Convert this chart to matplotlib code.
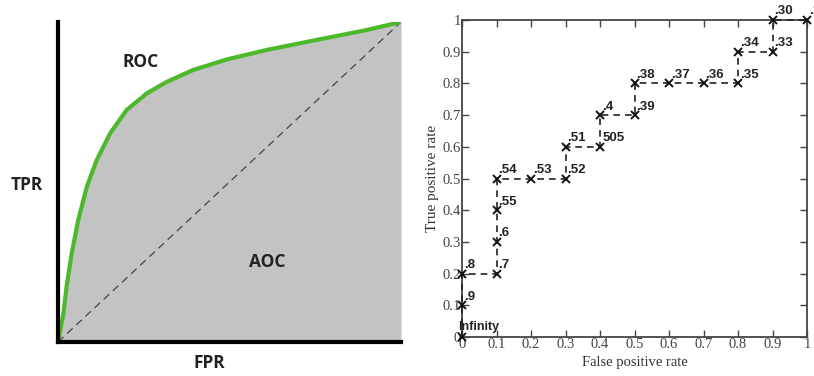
import numpy as np
import matplotlib.pyplot as plt

# left panel: schematic ROC curve
roc_fpr = [0.0, 0.016, 0.025, 0.040, 0.059, 0.084, 0.113, 0.152, 0.200,
           0.259, 0.317, 0.394, 0.492, 0.608, 0.754, 0.900, 1.0]
roc_tpr = [0.0, 0.090, 0.173, 0.277, 0.381, 0.485, 0.569, 0.652, 0.725,
           0.777, 0.813, 0.850, 0.883, 0.9125, 0.944, 0.975, 1.0]

# right panel: step ROC with thresholds
fpr = [0.0, 0.0, 0.0, 0.1, 0.1, 0.1, 0.1, 0.2, 0.3, 0.3, 0.4, 0.4, 0.5,
       0.5, 0.6, 0.7, 0.8, 0.8, 0.9, 0.9, 1.0]
tpr = [0.0, 0.1, 0.2, 0.2, 0.3, 0.4, 0.5, 0.5, 0.5, 0.6, 0.6, 0.7, 0.7,
       0.8, 0.8, 0.8, 0.8, 0.9, 0.9, 1.0, 1.0]
thresholds = ["Infinity", ".9", ".8", ".7", ".6", ".55", ".54", ".53", ".52",
              ".51", "505", ".4", ".39", ".38", ".37", ".36", ".35", ".34",
              ".33", ".30", ".1"]
ticks = [0, 0.1, 0.2, 0.3, 0.4, 0.5, 0.6, 0.7, 0.8, 0.9, 1]
tick_labels = ["0", "0.1", "0.2", "0.3", "0.4", "0.5", "0.6", "0.7", "0.8", "0.9", "1"]

fig = plt.figure(figsize=(8.14, 3.76), dpi=100)

# ---- left schematic
ax1 = fig.add_axes([58 / 814, 34 / 376, 343 / 814, 320 / 376])
ax1.fill_between(roc_fpr, roc_tpr, 0, color="#c3c3c3", lw=0)
ax1.plot([0, 1], [0, 1], ls=(0, (6, 4)), color="#444444", lw=0.9)
ax1.plot(roc_fpr, roc_tpr, color="#4cb82c", lw=3, solid_capstyle="round",
         solid_joinstyle="round")
ax1.set_xlim(0, 1)
ax1.set_ylim(0, 1)
for s in ["top", "right"]:
    ax1.spines[s].set_visible(False)
for s in ["left", "bottom"]:
    ax1.spines[s].set_linewidth(3)
ax1.set_xticks([])
ax1.set_yticks([])
bold = dict(fontsize=12.5, fontweight="bold", family="Open Sans", color="#222222")
ax1.text(0.24, 0.875, "ROC", ha="center", va="center", **bold)
ax1.text(0.61, 0.25, "AOC", ha="center", va="center", **bold)
ax1.text(-0.09, 0.49, "TPR", ha="center", va="center", clip_on=False, **bold)
ax1.text(0.44, -0.065, "FPR", ha="center", va="center", clip_on=False, **bold)

# ---- right ROC steps
ax2 = fig.add_axes([462 / 814, 39 / 376, 345 / 814, 317 / 376])
ax2.plot(fpr, tpr, ls=(0, (4, 3)), color="#222222", lw=1.2,
         marker="x", ms=6, mew=1.4, mec="#111111", clip_on=False, zorder=3)
for x, y, t in zip(fpr, tpr, thresholds):
    if t == "Infinity":
        ax2.text(x - 0.012, y + 0.012, t, fontsize=9, fontweight="bold",
                 ha="left", va="bottom", family="Liberation Sans", color="#222222")
    else:
        ax2.text(x + 0.006, y + 0.008, t, fontsize=9.5, fontweight="bold",
                 ha="left", va="bottom", family="Liberation Sans", color="#222222",
                 clip_on=False)
ax2.set_xlim(0, 1)
ax2.set_ylim(0, 1)
ax2.set_xticks(ticks)
ax2.set_yticks(ticks)
ax2.set_xticklabels(tick_labels, family="Liberation Serif", fontsize=10.5, color="#444444")
ax2.set_yticklabels(tick_labels, family="Liberation Serif", fontsize=10.5, color="#444444")
ax2.tick_params(direction="in", length=5, width=1, color="#444444",
                top=True, right=True, pad=1)
for s in ax2.spines.values():
    s.set_linewidth(1.3)
    s.set_color("#444444")
ax2.set_xlabel("False positive rate", family="Liberation Serif", fontsize=10.5,
               color="#333333", labelpad=3)
ax2.set_ylabel("True positive rate", family="Liberation Serif", fontsize=11,
               color="#333333", labelpad=2)

fig.savefig("out.png", dpi=100)
